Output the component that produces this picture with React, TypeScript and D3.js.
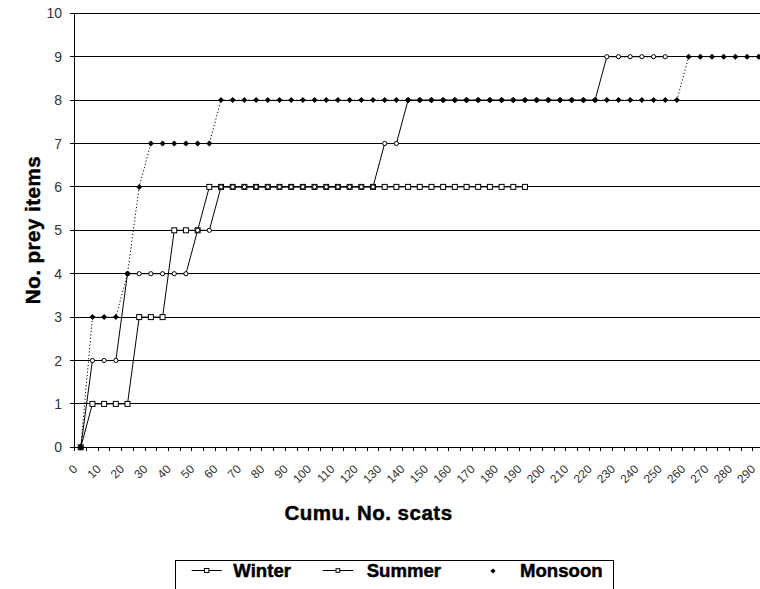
import React from 'react';
import * as d3 from 'd3';

// Cumulative number of scats (category axis)
const CATEGORIES = [
  0, 5, 10, 15, 20, 25, 30, 35, 40, 45, 50, 55, 60, 65, 70, 75, 80, 85, 90, 95,
  100, 105, 110, 115, 120, 125, 130, 135, 140, 145, 150, 155, 160, 165, 170, 175,
  180, 185, 190, 195, 200, 205, 210, 215, 220, 225, 230, 235, 240, 245, 250, 255,
  260, 265, 270, 275, 280, 285, 290,
];

// Cumulative number of prey items per season (one value per category, from 0)
const WINTER = [
  0, 1, 1, 1, 1, 3, 3, 3, 5, 5, 5, 6, 6, 6, 6, 6, 6, 6, 6, 6,
  6, 6, 6, 6, 6, 6, 6, 6, 6, 6, 6, 6, 6, 6, 6, 6, 6, 6, 6,
];
const SUMMER = [
  0, 2, 2, 2, 4, 4, 4, 4, 4, 4, 5, 5, 6, 6, 6, 6, 6, 6, 6, 6,
  6, 6, 6, 6, 6, 6, 7, 7, 8, 8, 8, 8, 8, 8, 8, 8, 8, 8, 8, 8,
  8, 8, 8, 8, 8, 9, 9, 9, 9, 9, 9,
];
const MONSOON = [
  0, 3, 3, 3, 4, 6, 7, 7, 7, 7, 7, 7, 8, 8, 8, 8, 8, 8, 8, 8,
  8, 8, 8, 8, 8, 8, 8, 8, 8, 8, 8, 8, 8, 8, 8, 8, 8, 8, 8, 8,
  8, 8, 8, 8, 8, 8, 8, 8, 8, 8, 8, 8, 9, 9, 9, 9, 9, 9, 9,
];

const Y_TICKS = [0, 1, 2, 3, 4, 5, 6, 7, 8, 9, 10];
const X_LABELS = CATEGORIES.filter((c) => c % 10 === 0);

const X_TITLE = 'Cumu. No. scats';
const Y_TITLE = 'No. prey items';
const SERIES_NAMES = ['Winter', 'Summer', 'Monsoon'];

const W = 760;
const H = 589;
const AXIS_LEFT = 74.9;
const STEP = 11.69;
const FONT = 'Arial, "Liberation Sans", sans-serif';

const diamond = (r: number) => `M0,${-r}L${r},0L0,${r}L${-r},0Z`;

export default function App() {
  const x = d3
    .scaleBand<number>()
    .domain(CATEGORIES)
    .range([AXIS_LEFT, AXIS_LEFT + STEP * CATEGORIES.length])
    .paddingInner(0)
    .paddingOuter(0);
  const cx = (c: number) => (x(c) as number) + x.bandwidth() / 2;
  const y = d3.scaleLinear().domain([0, 10]).range([447.3, 13.3]);

  const line = d3
    .line<number>()
    .x((_, i) => cx(CATEGORIES[i]))
    .y((v) => y(v));

  const y0 = y(0);
  const boundaries = CATEGORIES.map((c) => x(c) as number).concat(
    AXIS_LEFT + STEP * CATEGORIES.length
  );

  // heavy bold text (titles, legend)
  const heavy = { fontWeight: 'bold' as const, fill: '#000', stroke: '#000', strokeWidth: 0.45 };

  return (
    <svg
      width={W}
      height={H}
      viewBox={`0 0 ${W} ${H}`}
      style={{ position: 'absolute', left: 0, top: 0, background: '#fff' }}
      fontFamily={FONT}
    >
      <rect x={0} y={0} width={W} height={H} fill="#fff" />

      {/* horizontal gridlines */}
      <g stroke="#000" strokeWidth={1} shapeRendering="crispEdges">
        {Y_TICKS.filter((t) => t > 0).map((t) => (
          <line key={t} x1={AXIS_LEFT} x2={W + 10} y1={y(t)} y2={y(t)} />
        ))}
      </g>

      {/* y axis */}
      <g stroke="#000" strokeWidth={1} shapeRendering="crispEdges">
        <line x1={AXIS_LEFT} x2={AXIS_LEFT} y1={y(10)} y2={y0} />
        {Y_TICKS.map((t) => (
          <line key={t} x1={AXIS_LEFT - 5} x2={AXIS_LEFT} y1={y(t)} y2={y(t)} />
        ))}
      </g>
      <g fontSize={14} fill="#333" textAnchor="end">
        {Y_TICKS.map((t) => (
          <text key={t} x={62} y={y(t)} dy="0.36em">
            {t}
          </text>
        ))}
      </g>

      {/* x axis */}
      <g stroke="#000" strokeWidth={1} shapeRendering="crispEdges">
        <line x1={AXIS_LEFT} x2={W + 10} y1={y0} y2={y0} />
        {boundaries.map((b, i) => (
          <line key={i} x1={b} x2={b} y1={y0} y2={y0 + 4} />
        ))}
      </g>
      <g fontSize={12} fill="#333" textAnchor="end">
        {X_LABELS.map((c) => (
          <text key={c} transform={`translate(${cx(c) - 2.5},${y0 + 22.5}) rotate(-45)`}>
            {c}
          </text>
        ))}
      </g>

      {/* Winter */}
      <path d={line(WINTER) || ''} fill="none" stroke="#000" strokeWidth={1} />
      <g fill="#fff" stroke="#000" strokeWidth={1}>
        {WINTER.map((v, i) => (
          <rect key={i} x={cx(CATEGORIES[i]) - 2.5} y={y(v) - 2.5} width={5} height={5} />
        ))}
      </g>

      {/* Summer */}
      <path d={line(SUMMER) || ''} fill="none" stroke="#000" strokeWidth={1} />
      <g fill="#fff" stroke="#000" strokeWidth={1}>
        {SUMMER.map((v, i) => (
          <circle key={i} cx={cx(CATEGORIES[i])} cy={y(v)} r={2.1} />
        ))}
      </g>

      {/* Monsoon */}
      <path
        d={line(MONSOON) || ''}
        fill="none"
        stroke="#000"
        strokeWidth={1}
        strokeDasharray="1.2 2.2"
      />
      <g fill="#000">
        {MONSOON.map((v, i) => (
          <path key={i} d={diamond(3)} transform={`translate(${cx(CATEGORIES[i])},${y(v)})`} />
        ))}
      </g>

      {/* axis titles */}
      <text x={368.5} y={520} textAnchor="middle" fontSize={20.5} letterSpacing={0.5} {...heavy}>
        {X_TITLE}
      </text>
      <text
        transform={`translate(${40},${230}) rotate(-90)`}
        textAnchor="middle"
        fontSize={20.5}
        letterSpacing={0.5}
        {...heavy}
      >
        {Y_TITLE}
      </text>

      {/* legend */}
      <rect x={175.5} y={560.5} width={438} height={40} fill="#fff" stroke="#000" strokeWidth={1} />
      <g stroke="#000" strokeWidth={1}>
        <line x1={191.7} x2={221.7} y1={570.5} y2={570.5} />
        <rect x={204.5} y={568.5} width={4.4} height={4} fill="#fff" />
        <line x1={322.7} x2={353.3} y1={570.5} y2={570.5} />
        <rect x={336} y={568.7} width={3.8} height={3.6} fill="#fff" />
      </g>
      <path d={diamond(2.6)} transform="translate(493,571)" fill="#000" />
      <g fontSize={18.6} {...heavy}>
        <text x={233.3} y={577}>
          {SERIES_NAMES[0]}
        </text>
        <text x={366.7} y={577}>
          {SERIES_NAMES[1]}
        </text>
        <text x={520} y={577}>
          {SERIES_NAMES[2]}
        </text>
      </g>
    </svg>
  );
}
